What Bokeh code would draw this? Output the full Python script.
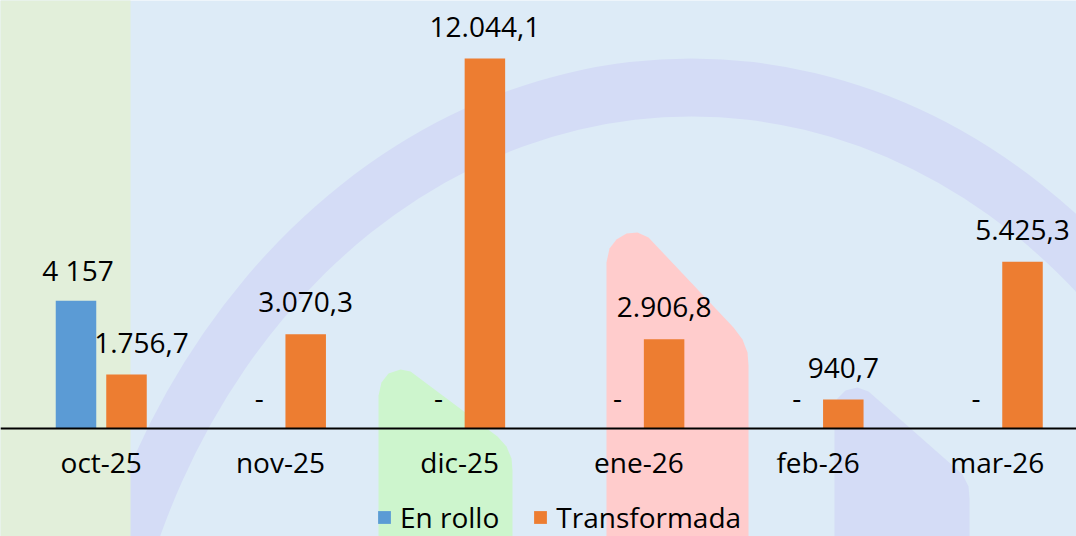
from bokeh.plotting import figure
from bokeh.models import Range1d, Span, Legend, LegendItem, ColumnDataSource
from bokeh.transform import dodge
from bokeh.core.properties import value
from bokeh.embed import file_html
from bokeh.resources import INLINE

# ---- data ----
categories = ["oct-25", "nov-25", "dic-25", "ene-26", "feb-26", "mar-26"]
en_rollo = [4157, 0, 0, 0, 0, 0]
transformada = [1756.7, 3070.3, 12044.1, 2906.8, 940.7, 5425.3]
series_names = ["En rollo", "Transformada"]

# ---- styling ----
BLUE = "#5b9bd5"
ORANGE = "#ed7d31"
BG = "#ddebf7"
FONT = "Open Sans"
FS = "28px"
W, H = 1076, 536

def fmt_rollo(v):
    return "-" if v == 0 else f"{v:,.0f}".replace(",", " ")

def fmt_transf(v):
    s = f"{v:,.1f}"
    return s.replace(",", "#").replace(".", ",").replace("#", ".")

xs = list(range(len(categories)))
src = ColumnDataSource(dict(
    x=xs, cat=categories, rollo=en_rollo, transf=transformada,
    rollo_lbl=[fmt_rollo(v) for v in en_rollo],
    transf_lbl=[fmt_transf(v) for v in transformada],
    rollo_dx=[4 if v == 0 else 2 for v in en_rollo],
    transf_dx=[15 if (r > 0) else 0 for r in en_rollo],
))

p = figure(width=W, height=H,
           x_range=Range1d(-0.5622, 5.4422), y_range=Range1d(-3515.6, 13932.3),
           output_backend="svg", toolbar_location=None,
           x_axis_location=None, y_axis_location=None, min_border=0)
p.grid.visible = False
p.outline_line_color = None
p.background_fill_color = BG
p.border_fill_color = BG

# ---- decorative background (canvas-pixel coordinates) ----
p.extra_x_ranges = {"px": Range1d(0, W)}
p.extra_y_ranges = {"px": Range1d(H, 0)}
deco = dict(x_range_name="px", y_range_name="px", line_color=None)
p.ellipse(x=691, y=808, width=1262, height=1500, fill_color="#d4dcf6", **deco)
p.ellipse(x=691, y=808, width=1156, height=1384, fill_color=BG, **deco)
p.quad(left=-5, right=130, top=-5, bottom=545, fill_color="#e2efda", **deco)
green_shape = [(378,545),(378,395),(381,382),(388,373),(400,369),(410,371),(497,436),(506,446),(511,458),(512,470),(512,545)]
pink_shape = [(606,545),(606,262),(609,248),(616,239),(626,233),(637,232),(648,237),(733,327),(742,339),(747,352),(748,365),(748,545)]
lav_shape = [(834,545),(834,410),(837,398),(845,390),(857,387),(868,391),(952,465),(962,474),(968,486),(969,498),(969,545)]
shapes = [green_shape, pink_shape, lav_shape]
p.patches(xs=[[a for a, b in s] for s in shapes], ys=[[b for a, b in s] for s in shapes],
          fill_color=["#cdf5cd", "#ffcccc", "#d4dcf6"], **deco)

# ---- bars ----
BW = 0.226
OFF = 0.1409
r1 = p.vbar(x=dodge("x", -OFF, range=p.x_range), top="rollo", width=BW, source=src,
            fill_color=BLUE, line_color=None)
r2 = p.vbar(x=dodge("x", OFF, range=p.x_range), top="transf", width=BW, source=src,
            fill_color=ORANGE, line_color=None)

p.add_layout(Span(location=0, dimension="width", line_color="#000000", line_width=2))

txt = dict(text_font=value(FONT), text_font_size=FS, text_color="#000000",
           text_align="center", text_baseline="alphabetic", source=src)
p.text(x=dodge("x", -OFF, range=p.x_range), y="rollo", text="rollo_lbl",
       x_offset="rollo_dx", y_offset=-31, **txt)
p.text(x=dodge("x", OFF, range=p.x_range), y="transf", text="transf_lbl",
       x_offset="transf_dx", y_offset=-32, **txt)
p.text(x="x", y=0, text="cat", y_offset=33, **txt)

legend = Legend(items=[LegendItem(label=series_names[0], renderers=[r1]),
                       LegendItem(label=series_names[1], renderers=[r2])],
                orientation="horizontal", location=(376, 0),
                label_text_font=FONT, label_text_font_size=FS, label_text_color="#000000",
                glyph_width=16, glyph_height=16, label_standoff=8, spacing=33,
                padding=0, margin=0, background_fill_alpha=0, border_line_color=None)
p.add_layout(legend)

open("out.html", "w").write(file_html(p, INLINE))
